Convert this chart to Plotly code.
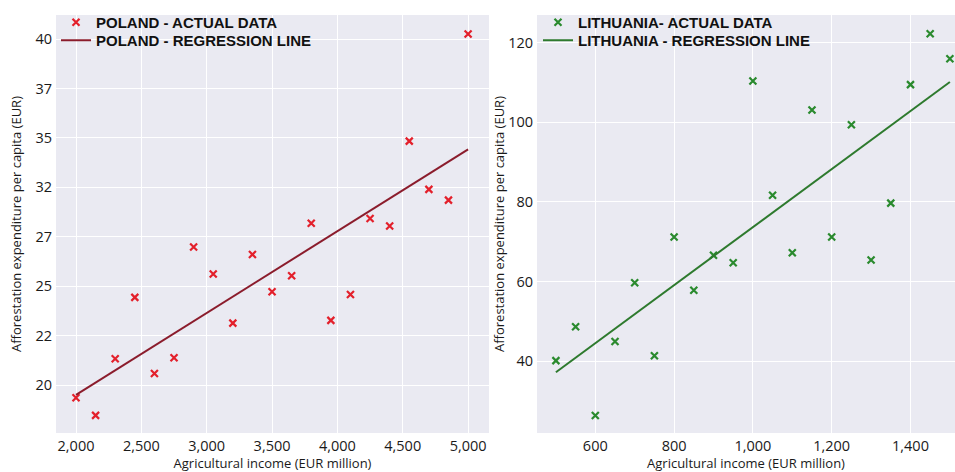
import numpy as np
import plotly.graph_objects as go

# ---------------- data ----------------
pl_income = [2000, 2150, 2300, 2450, 2600, 2750, 2900, 3050, 3200, 3350, 3500,
             3650, 3800, 3950, 4100, 4250, 4400, 4550, 4700, 4850, 5000]
pl_expend = [19.27, 18.25, 21.52, 25.07, 20.67, 21.58, 27.98, 26.42, 23.58, 27.55, 25.39,
             26.32, 29.35, 23.74, 25.24, 29.63, 29.19, 34.10, 31.31, 30.69, 40.29]

lt_income = [500, 550, 600, 650, 700, 750, 800, 850, 900, 950, 1000,
             1050, 1100, 1150, 1200, 1250, 1300, 1350, 1400, 1450, 1500]
lt_expend = [40.1, 48.6, 26.3, 44.9, 59.7, 41.3, 71.2, 57.8, 66.6, 64.7, 110.4,
             81.7, 67.2, 103.1, 71.2, 99.4, 65.4, 79.7, 109.5, 122.3, 116.0]

pl_ytick_vals = list(np.linspace(20, 40, 8))
pl_ytick_text = ["20", "22", "25", "27", "32", "35", "37", "40"]
pl_xtick_vals = [2000, 2500, 3000, 3500, 4000, 4500, 5000]
lt_ytick_vals = [40, 60, 80, 100, 120]
lt_xtick_vals = [600, 800, 1000, 1200, 1400]

# ---------------- regression ----------------
def fit(x, y):
    x = np.asarray(x, float); y = np.asarray(y, float)
    b, a = np.polyfit(x, y, 1)
    xs = np.array([x.min(), x.max()])
    return xs, a + b * xs

pl_lx, pl_ly = fit(pl_income, pl_expend)
lt_lx, lt_ly = fit(lt_income, lt_expend)

RED = "#e3202b"
MAROON = "#8b1c2c"
GREEN = "#2a8a2e"
DGREEN = "#2e7a2e"
BG = "#eaeaf2"

fig = go.Figure()
fig.add_trace(go.Scatter(x=pl_income, y=pl_expend, mode="markers",
                         marker=dict(symbol="x-thin", size=7, color=RED, line=dict(width=2.2, color=RED)),
                         name="POLAND - ACTUAL DATA", xaxis="x", yaxis="y", legend="legend"))
fig.add_trace(go.Scatter(x=pl_lx, y=pl_ly, mode="lines",
                         line=dict(color=MAROON, width=2),
                         name="POLAND - REGRESSION LINE", xaxis="x", yaxis="y", legend="legend3"))
fig.add_trace(go.Scatter(x=lt_income, y=lt_expend, mode="markers",
                         marker=dict(symbol="x-thin", size=7, color=GREEN, line=dict(width=2.2, color=GREEN)),
                         name="LITHUANIA- ACTUAL DATA", xaxis="x2", yaxis="y2", legend="legend2"))
fig.add_trace(go.Scatter(x=lt_lx, y=lt_ly, mode="lines",
                         line=dict(color=DGREEN, width=2),
                         name="LITHUANIA - REGRESSION LINE", xaxis="x2", yaxis="y2", legend="legend4"))

W, H = 955, 472
tick_font = dict(family="Open Sans, sans-serif", size=14.5, color="#1a1a1a")
title_font = dict(family="Open Sans, sans-serif", size=13, color="#1a1a1a")
leg_font = dict(family="Liberation Sans, Arial, sans-serif", size=15, color="#111", weight="bold")

common_axis = dict(showgrid=True, gridcolor="white", gridwidth=1, zeroline=False,
                   showline=False, ticks="", tickfont=tick_font, automargin=False)

ydom = [1 - 433 / H, 1 - 15 / H]


def leg(xpx, ypx):
    return dict(x=xpx / W, y=1 - ypx / H, xanchor="left", yanchor="top",
                bgcolor="rgba(0,0,0,0)", font=leg_font, tracegroupgap=0)


fig.update_layout(
    width=W, height=H, margin=dict(l=0, r=0, t=0, b=0),
    paper_bgcolor="white", plot_bgcolor=BG,
    xaxis=dict(domain=[56 / W, 489 / W], range=[1847, 5160], tickvals=pl_xtick_vals,
               tickformat=",", anchor="y", ticklabelstandoff=2,
               title=dict(text="Agricultural income (EUR million)", font=title_font, standoff=18),
               **common_axis),
    yaxis=dict(domain=ydom, range=[17.23, 41.39], tickvals=pl_ytick_vals, ticktext=pl_ytick_text,
               anchor="x", ticklabelstandoff=3,
               title=dict(text="Afforestation expenditure per capita (EUR)", font=title_font, standoff=10),
               **common_axis),
    xaxis2=dict(domain=[537 / W, 1.0], range=[452, 1513], tickvals=lt_xtick_vals,
                tickformat=",", anchor="y2", ticklabelstandoff=2,
                title=dict(text="Agricultural income (EUR million)", font=title_font, standoff=18),
                **common_axis),
    yaxis2=dict(domain=ydom, range=[21.9, 127.0], tickvals=lt_ytick_vals, anchor="x2",
                ticklabelstandoff=3,
                title=dict(text="Afforestation expenditure per capita (EUR)", font=title_font, standoff=0),
                **common_axis),
    legend=leg(56, 6),
    legend3=leg(56, 24),
    legend2=leg(538, 6),
    legend4=leg(538, 24),
    showlegend=True,
)

fig.write_html("out.html")
